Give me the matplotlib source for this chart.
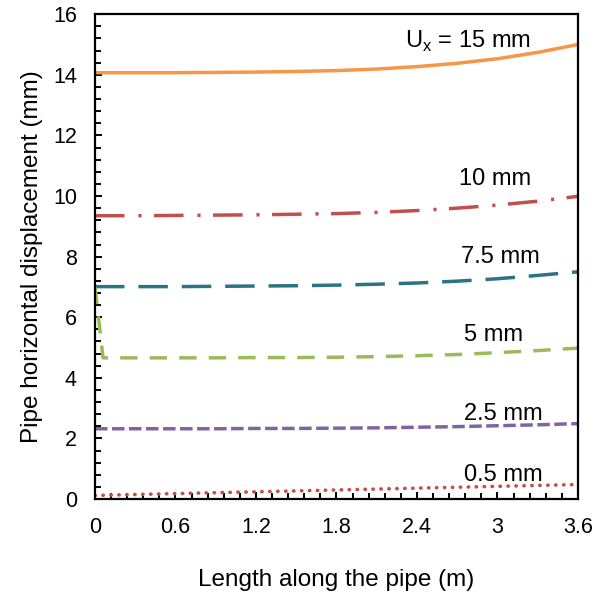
import numpy as np
import matplotlib
matplotlib.use("Agg")
import matplotlib.pyplot as plt
from matplotlib.ticker import MultipleLocator

plt.rcParams['font.family'] = ['Liberation Sans', 'DejaVu Sans']

# data
x = [0, 0.3, 0.6, 0.9, 1.2, 1.5, 1.8, 2.1, 2.4, 2.7, 3.0, 3.3, 3.6]
x_5mm = [0, 0.06, 0.3, 0.6, 0.9, 1.2, 1.5, 1.8, 2.1, 2.4, 2.7, 3.0, 3.3, 3.6]

u_15 = [14.07, 14.07, 14.07, 14.08, 14.09, 14.11, 14.14, 14.19, 14.27, 14.38, 14.53, 14.74, 15.0]
u_10 = [9.35, 9.35, 9.36, 9.37, 9.38, 9.40, 9.42, 9.46, 9.52, 9.60, 9.70, 9.83, 9.99]
u_7_5 = [7.01, 7.01, 7.01, 7.02, 7.03, 7.04, 7.06, 7.09, 7.13, 7.19, 7.27, 7.38, 7.50]
u_5 = [7.0, 4.66, 4.66, 4.66, 4.66, 4.67, 4.67, 4.68, 4.70, 4.73, 4.77, 4.83, 4.90, 4.98]
u_2_5 = [2.32, 2.32, 2.32, 2.32, 2.33, 2.33, 2.34, 2.35, 2.37, 2.39, 2.42, 2.45, 2.49]
u_0_5 = [0.12, 0.15, 0.18, 0.21, 0.24, 0.27, 0.30, 0.33, 0.36, 0.39, 0.42, 0.45, 0.48]

labels = ['U$_\\mathregular{x}$ = 15 mm', '10 mm', '7.5 mm', '5 mm', '2.5 mm', '0.5 mm']
label_pos = [(2.78, 15.1), (2.98, 10.55), (3.02, 8.0), (2.97, 5.41), (3.04, 2.81), (3.04, 0.81)]

fig = plt.figure(figsize=(6.03, 5.92), dpi=100)
ax = fig.add_axes([0.1575, 0.157, 0.801, 0.819])

lw = 2.5
ax.plot(x, u_15, color='#F79646', lw=lw, solid_capstyle='butt')
ax.plot(x, u_10, color='#C0504D', lw=lw, linestyle=(0, (8.5, 4, 0.9, 3.6)))
ax.plot(x, u_7_5, color='#2B7385', lw=lw, linestyle=(0, (8.5, 4)))
ax.plot(x_5mm, u_5, color='#9BBB59', lw=lw, linestyle=(0, (5, 3.5)))
ax.plot(x, u_2_5, color='#8064A2', lw=lw, linestyle=(0, (3.6, 1.3)))
ax.plot(x, u_0_5, color='#C0504D', lw=2.6, linestyle=(0, (0.1, 2.1)),
        dash_capstyle='round')

for txt, (tx, ty) in zip(labels, label_pos):
    ax.text(tx, ty, txt, ha='center', va='center', fontsize=17)

ax.set_xlim(0, 3.6)
ax.set_ylim(0, 16)
ax.set_xticks([0, 0.6, 1.2, 1.8, 2.4, 3.0, 3.6])
ax.set_xticklabels(['0', '0.6', '1.2', '1.8', '2.4', '3', '3.6'])
ax.xaxis.set_minor_locator(MultipleLocator(0.12))
ax.yaxis.set_major_locator(MultipleLocator(2))
ax.yaxis.set_minor_locator(MultipleLocator(0.4))

ax.tick_params(which='both', direction='in', top=False, right=False,
               width=1.4, labelsize=15.5, pad=13)
ax.tick_params(which='major', length=5)
ax.tick_params(which='minor', length=4)
for s in ax.spines.values():
    s.set_linewidth(1.6)

ax.set_xlabel('Length along the pipe (m)', fontsize=17.5, labelpad=22)
ax.set_ylabel('Pipe horizontal displacement (mm)', fontsize=17.5, labelpad=7)

fig.savefig('out.png', dpi=100)
